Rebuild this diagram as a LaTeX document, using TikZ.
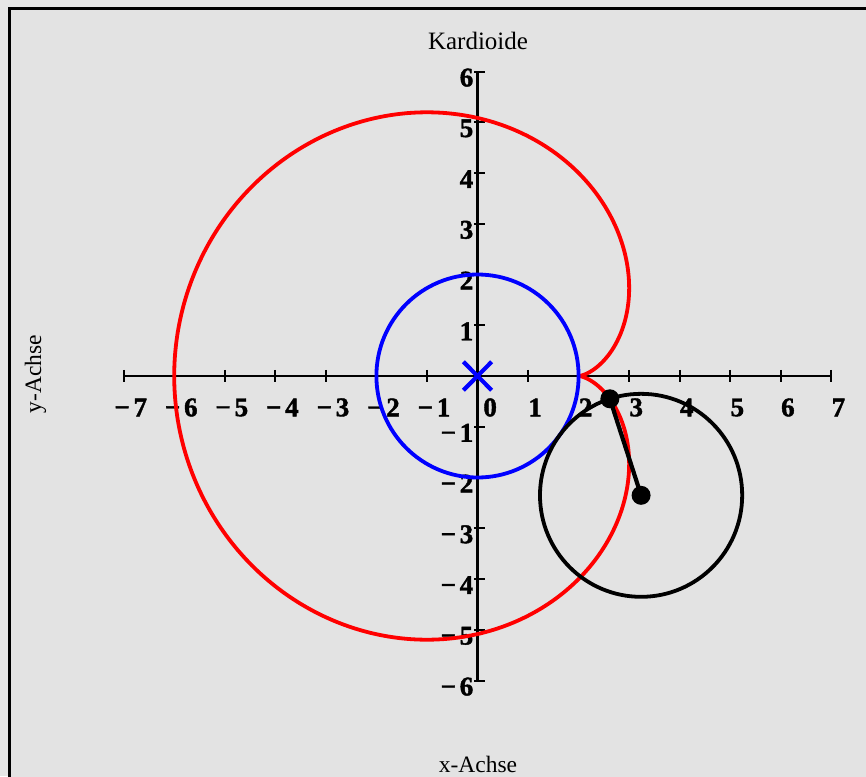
\documentclass[tikz,border=0pt]{standalone}
\usepackage{fontspec}
\setmainfont{Liberation Serif}
\newfontfamily\numfont[UprightFont={* Bold}, FakeBold=1.5]{Liberation Serif}
\definecolor{bgout}{RGB}{230,230,230}
\definecolor{bgin}{RGB}{227,227,227}
\tikzset{
  axisline/.style={line width=2.2pt, black},
  tickline/.style={line width=2pt, black},
  numlab/.style={font=\fontsize{27}{27}\numfont, inner sep=0pt},
  txtlab/.style={font=\fontsize{23.5}{24}\selectfont, inner sep=0pt},
  curvered/.style={red, line width=3.8pt},
  curveblue/.style={blue, line width=3.8pt},
  curveblack/.style={black, line width=3.8pt},
  dotnode/.style={circle, fill=black, minimum size=19pt, inner sep=0pt},
}
\begin{document}
\begin{tikzpicture}[x=1pt,y=-1pt]
\useasboundingbox (0,0) rectangle (866,776);
\fill[bgout] (0,0) rectangle (866,776);
\clip (0,0) rectangle (866,776);
\fill[bgin] (9.5,8.5) rectangle (900,800);
\draw[line width=3.5pt] (9.5,800) -- (9.5,8.5) -- (900,8.5);

\node[txtlab, font=\fontsize{25}{25}\selectfont, anchor=base] (title) at (478,49) {Kardioide};
\node[txtlab, anchor=base] (xlab) at (478,772) {x-Achse};
\node[txtlab, anchor=base, rotate=90] (ylab) at (41,374) {y-Achse};

\begin{scope}[shift={(477.5,376)}, x=50.55pt, y=50.75pt]
  % axes
  \draw[axisline] (-7,0) -- (7,0);
  \draw[axisline] (0,-6) -- (0,6);
  \foreach \i in {-7,...,7} {
    \draw[tickline] (\i,0.12) -- (\i,-0.12);
  }
  \foreach \j in {-6,...,-1,1,2,...,6} {
    \draw[tickline] (-0.06,\j) -- (0.15,\j);
  }
  % x labels
  \foreach \i in {-7,...,-1} {
    \pgfmathtruncatemacro{\ai}{-\i}
    \node[numlab] (xl\ai) at ({\i+0.14},-0.62) {\textminus\hspace{0.14em}\ai};
  }
  \node[numlab] (xz) at (0.25,-0.62) {0};
  \foreach \i in {1,...,7} {
    \node[numlab] (xp\i) at ({\i+0.14},-0.62) {\i};
  }
  % y labels
  \foreach \j in {1,...,6} {
    \node[numlab, anchor=east] (yp\j) at (-0.08,{\j-0.12}) {\j};
  }
  \foreach \j in {-6,...,-1} {
    \pgfmathtruncatemacro{\aj}{-\j}
    \node[numlab, anchor=east] (ym\aj) at (-0.08,{\j-0.12}) {\textminus\hspace{0.14em}\aj};
  }
  % cardioid
  \draw[curvered] plot[domain=0:360, samples=241, smooth, variable=\t]
     ({4*cos(\t)-2*cos(2*\t)},{4*sin(\t)-2*sin(2*\t)}) -- cycle;
  % fixed circle
  \draw[curveblue] (0,0) circle (2);
  \coordinate (O) at (0,0);
  \draw[blue, line width=4.2pt] ([shift={(-0.28,0.28)}]O) -- ([shift={(0.28,-0.28)}]O);
  \draw[blue, line width=4.2pt] ([shift={(-0.28,-0.28)}]O) -- ([shift={(0.28,0.28)}]O);
  % rolling circle
  \coordinate (Cc) at ({4*cos(-36)},{4*sin(-36)});
  \draw[curveblack] (Cc) circle (2);
  \node[dotnode] (C) at (Cc) {};
  \node[dotnode] (P) at ({4*cos(-36)-2*cos(-72)},{4*sin(-36)-2*sin(-72)}) {};
  \draw[black, line width=4.2pt] (P.center) -- (C.center);
\end{scope}
\end{tikzpicture}
\end{document}
